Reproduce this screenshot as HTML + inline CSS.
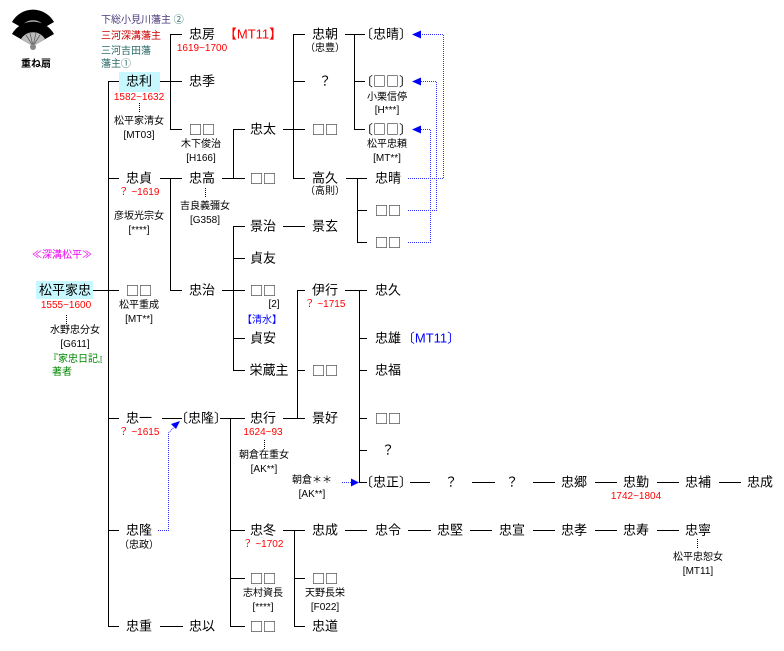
<!DOCTYPE html>
<html><head><meta charset="utf-8"><style>
html,body{margin:0;padding:0;background:#fff;}
#w{position:relative;width:784px;height:651px;overflow:hidden;font-family:"Liberation Sans","Noto Sans CJK JP",sans-serif;color:#000;}
.t{position:absolute;transform:translate(-50%,-50%);white-space:nowrap;font-size:13px;line-height:15px;}
.l{position:absolute;white-space:nowrap;font-size:10px;line-height:12px;}
.s{font-size:10px;line-height:12px;}
.r{color:#f00;}.b{color:#00f;}.g{color:#080;}
.q{font-family:"Noto Sans CJK JP",sans-serif;}
svg{position:absolute;left:0;top:0;}
</style></head><body><div id="w">
<svg width="784" height="651" viewBox="0 0 784 651">
<rect x="36" y="281" width="57" height="18" fill="#c8f8ff"/>
<rect x="119" y="72" width="41" height="20" fill="#c8f8ff"/>
<!-- fans -->
<g>
<path d="M33,34 L12,22 A24,24 0 0 1 54,22 Z" fill="#000"/>
<path d="M33,34 L21,27 A14,14 0 0 1 45,27 Z" fill="#bbb"/>
<path d="M33,46 L12,34 A24,24 0 0 1 54,34 Z" fill="#000"/>
<path d="M33,46 L21,39 A14,14 0 0 1 45,39 Z" fill="#bbb"/>
<g stroke="#555" stroke-width="0.7"><path d="M33,46L26,35M33,46L30,33M33,46L36,33M33,46L40,35"/></g>
<circle cx="33" cy="47" r="3" fill="#888"/>
</g>
<g stroke="#000" stroke-width="1" fill="none">
<path d="M108.5,81V626.5M108,81.5H119M108,178.5H119M108,418.5H119M108,530.5H119M108,626.5H119M93,290.5H119"/>
<path d="M160,81.5H182M170.5,34V129.5M170,34.5H182M170,129.5H182"/>
<path d="M160,178.5H182M170.5,178V290.5M170,290.5H182"/>
<path d="M222,178.5H245M233.5,129V178.5M233,129.5H245"/>
<path d="M283,129.5H305M293.5,34V178.5M293,34.5H305M293,81.5H305M293,178.5H305"/>
<path d="M345,34.5H365M354.5,34V129.5M354,81.5H365M354,129.5H365"/>
<path d="M346,178.5H367M357.5,178V242.5M357,210.5H367M357,242.5H367"/>
<path d="M222,290.5H245M233.5,226V370.5M233,226.5H245M233,258.5H245M233,338.5H245M233,370.5H245"/>
<path d="M283,226.5H305"/>
<path d="M283,418.5H305M297.5,290V418.5M297,290.5H305M297,370.5H305"/>
<path d="M345,290.5H367M359.5,290V482.5M359,338.5H367M359,370.5H367M359,418.5H367M359,450.5H367M359,482.5H367"/>
<path d="M162,418.5H182M220,418.5H245M230.5,418V626.5M230,530.5H245M230,578.5H245M230,626.5H245"/>
<path d="M283,530.5H305M294.5,530V626.5M294,578.5H305M294,626.5H305"/>
<path d="M160,626.5H183"/>
<path d="M410,482.5H430M472,482.5H495M533,482.5H555M595,482.5H617M657,482.5H679M719,482.5H741"/>
<path d="M345,530.5H367M408,530.5H431M470,530.5H492M533,530.5H555M595,530.5H617M657,530.5H679"/>
</g>
<g stroke="#33f" stroke-width="1" fill="none" stroke-dasharray="1,1">
<path d="M408,178.5H443.5V34.5H420M408,210.5H436.5V81.5H420M408,242.5H430.5V129.5H420"/>
<path d="M342,482.5H352"/>
<path d="M158,530.5H168.5V433L176,425"/>
</g>
<g fill="#00f">
<path d="M412,34.5l9,-4v8z"/><path d="M412,81.5l9,-4v8z"/><path d="M412,129.5l9,-4v8z"/>
<path d="M359,482.5l-8,-4v8z"/><path d="M180,421l-9,3l5,5z"/>
</g>
<g stroke="#000" stroke-dasharray="1,1"><path d="M139.5,103V113M205.5,188V197M66.5,315V325M264.5,440V450M697.5,539V549"/></g>
</svg>
<div class="t s" style="left:36px;top:65px;font-weight:bold">重ね扇</div>
<div class="l" style="left:101px;top:15px;color:#4a3a7a">下総小見川藩主 <span style="color:#2a6a6a">②</span></div>
<div class="l" style="left:101px;top:31px;color:#c00">三河深溝藩主</div>
<div class="l" style="left:101px;top:46px;color:#2a6a6a">三河吉田藩</div>
<div class="l" style="left:101px;top:59px;color:#2a6a6a">藩主①</div>
<div class="t s" style="left:62px;top:256px;color:#e0e">≪深溝松平≫</div>
<div class="t" style="left:65px;top:290px">松平家忠</div>
<div class="t s r" style="left:66px;top:306px">1555~1600</div>
<div class="t s" style="left:75px;top:331px">水野忠分女</div>
<div class="t s" style="left:75px;top:345px">[G611]</div>
<div class="t s g" style="left:78px;top:360px">『家忠日記』</div>
<div class="t s g" style="left:62px;top:373px">著者</div>
<div class="t" style="left:139px;top:81px">忠利</div>
<div class="t s r" style="left:139px;top:98px">1582~1632</div>
<div class="t s" style="left:139px;top:122px">松平家清女</div>
<div class="t s" style="left:139px;top:136px">[MT03]</div>
<div class="t" style="left:139px;top:178px">忠貞</div>
<div class="t s r" style="left:139px;top:193px">？ ~1619</div>
<div class="t s" style="left:139px;top:217px">彦坂光宗女</div>
<div class="t s" style="left:139px;top:231px">[****]</div>
<div class="t q" style="left:139px;top:290px">□□</div>
<div class="t s" style="left:139px;top:306px">松平重成</div>
<div class="t s" style="left:139px;top:320px">[MT**]</div>
<div class="t" style="left:139px;top:418px">忠一</div>
<div class="t s r" style="left:139px;top:433px">？ ~1615</div>
<div class="t" style="left:139px;top:530px">忠隆</div>
<div class="t s" style="left:139px;top:546px">（忠政）</div>
<div class="t" style="left:139px;top:626px">忠重</div>
<div class="t" style="left:202px;top:34px">忠房</div>
<div class="t r" style="left:253px;top:34px">【MT11】</div>
<div class="t s r" style="left:202px;top:49px">1619~1700</div>
<div class="t" style="left:202px;top:81px">忠季</div>
<div class="t q" style="left:202px;top:129px">□□</div>
<div class="t s" style="left:201px;top:145px">木下俊治</div>
<div class="t s" style="left:201px;top:159px">[H166]</div>
<div class="t" style="left:202px;top:178px">忠高</div>
<div class="t s" style="left:205px;top:207px">吉良義彌女</div>
<div class="t s" style="left:205px;top:221px">[G358]</div>
<div class="t" style="left:202px;top:290px">忠治</div>
<div class="t" style="left:201px;top:418px">〔忠隆〕</div>
<div class="t" style="left:202px;top:626px">忠以</div>
<div class="t" style="left:263px;top:129px">忠太</div>
<div class="t q" style="left:263px;top:178px">□□</div>
<div class="t" style="left:263px;top:226px">景治</div>
<div class="t" style="left:263px;top:258px">貞友</div>
<div class="t q" style="left:263px;top:290px">□□</div>
<div class="t s" style="left:274px;top:305px">[2]</div>
<div class="t s b" style="left:262px;top:321px">【清水】</div>
<div class="t" style="left:263px;top:338px">貞安</div>
<div class="t" style="left:269px;top:370px">栄蔵主</div>
<div class="t" style="left:263px;top:418px">忠行</div>
<div class="t s r" style="left:263px;top:433px">1624~93</div>
<div class="t s" style="left:264px;top:456px">朝倉在重女</div>
<div class="t s" style="left:264px;top:470px">[AK**]</div>
<div class="t s" style="left:312px;top:481px">朝倉＊＊</div>
<div class="t s" style="left:312px;top:495px">[AK**]</div>
<div class="t" style="left:263px;top:530px">忠冬</div>
<div class="t s r" style="left:263px;top:545px">？ ~1702</div>
<div class="t q" style="left:263px;top:578px">□□</div>
<div class="t s" style="left:263px;top:594px">志村資長</div>
<div class="t s" style="left:263px;top:608px">[****]</div>
<div class="t q" style="left:263px;top:626px">□□</div>
<div class="t" style="left:325px;top:34px">忠朝</div>
<div class="t s" style="left:325px;top:49px">（忠豊）</div>
<div class="t" style="left:325px;top:81px">？</div>
<div class="t q" style="left:325px;top:129px">□□</div>
<div class="t" style="left:325px;top:178px">高久</div>
<div class="t s" style="left:325px;top:192px">（高則）</div>
<div class="t" style="left:325px;top:226px">景玄</div>
<div class="t" style="left:325px;top:290px">伊行</div>
<div class="t s r" style="left:325px;top:305px">？ ~1715</div>
<div class="t q" style="left:325px;top:370px">□□</div>
<div class="t" style="left:325px;top:418px">景好</div>
<div class="t" style="left:325px;top:530px">忠成</div>
<div class="t q" style="left:325px;top:578px">□□</div>
<div class="t s" style="left:325px;top:594px">天野長栄</div>
<div class="t s" style="left:325px;top:608px">[F022]</div>
<div class="t" style="left:325px;top:626px">忠道</div>
<div class="t" style="left:386px;top:34px">〔忠晴〕</div>
<div class="t" style="left:386px;top:81px">〔<span class="q">□□</span>〕</div>
<div class="t s" style="left:387px;top:98px">小栗信停</div>
<div class="t s" style="left:387px;top:111px">[H***]</div>
<div class="t" style="left:386px;top:129px">〔<span class="q">□□</span>〕</div>
<div class="t s" style="left:387px;top:145px">松平忠頼</div>
<div class="t s" style="left:387px;top:159px">[MT**]</div>
<div class="t" style="left:388px;top:178px">忠晴</div>
<div class="t q" style="left:388px;top:210px">□□</div>
<div class="t q" style="left:388px;top:242px">□□</div>
<div class="t" style="left:388px;top:290px">忠久</div>
<div class="t" style="left:388px;top:338px">忠雄</div>
<div class="t b" style="left:431px;top:338px">〔MT11〕</div>
<div class="t" style="left:388px;top:370px">忠福</div>
<div class="t q" style="left:388px;top:418px">□□</div>
<div class="t" style="left:388px;top:450px">？</div>
<div class="t" style="left:386px;top:482px">〔忠正〕</div>
<div class="t" style="left:451px;top:482px">？</div>
<div class="t" style="left:512px;top:482px">？</div>
<div class="t" style="left:574px;top:482px">忠郷</div>
<div class="t" style="left:636px;top:482px">忠勤</div>
<div class="t s r" style="left:636px;top:497px">1742~1804</div>
<div class="t" style="left:698px;top:482px">忠補</div>
<div class="t" style="left:760px;top:482px">忠成</div>
<div class="t" style="left:388px;top:530px">忠令</div>
<div class="t" style="left:450px;top:530px">忠堅</div>
<div class="t" style="left:512px;top:530px">忠宣</div>
<div class="t" style="left:574px;top:530px">忠孝</div>
<div class="t" style="left:636px;top:530px">忠寿</div>
<div class="t" style="left:698px;top:530px">忠寧</div>
<div class="t s" style="left:698px;top:558px">松平忠恕女</div>
<div class="t s" style="left:698px;top:572px">[MT11]</div>
</div></body></html>
